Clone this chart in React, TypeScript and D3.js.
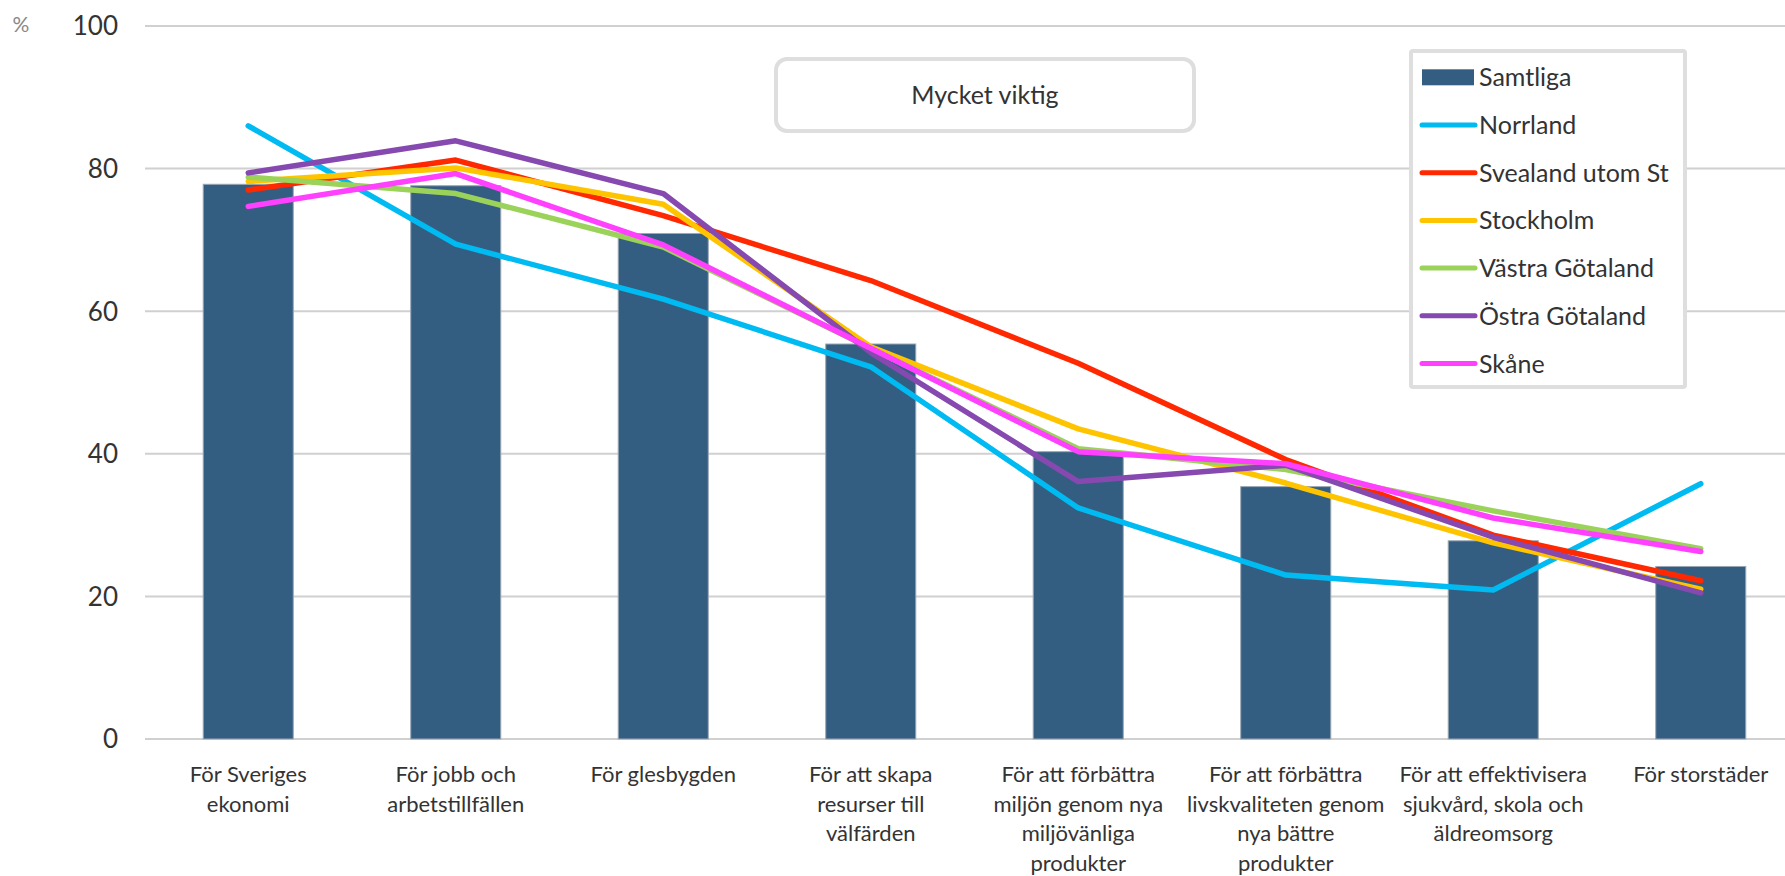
import React from "react";
import * as d3 from "d3";

const categories = [
  "För Sveriges ekonomi",
  "För jobb och arbetstillfällen",
  "För glesbygden",
  "För att skapa resurser till välfärden",
  "För att förbättra miljön genom nya miljövänliga produkter",
  "För att förbättra livskvaliteten genom nya bättre produkter",
  "För att effektivisera sjukvård, skola och äldreomsorg",
  "För storstäder",
];

const categoryLines = [
  ["För Sveriges", "ekonomi"],
  ["För jobb och", "arbetstillfällen"],
  ["För glesbygden"],
  ["För att skapa", "resurser till", "välfärden"],
  ["För att förbättra", "miljön genom nya", "miljövänliga", "produkter"],
  ["För att förbättra", "livskvaliteten genom", "nya bättre", "produkter"],
  ["För att effektivisera", "sjukvård, skola och", "äldreomsorg"],
  ["För storstäder"],
];

const samtliga = [77.8, 77.6, 70.9, 55.4, 40.3, 35.4, 27.8, 24.2];
const norrland = [86.0, 69.4, 61.7, 52.2, 32.4, 23.0, 20.9, 35.8];
const svealand = [77.0, 81.2, 73.4, 64.3, 52.7, 39.2, 28.6, 22.2];
const stockholm = [78.2, 80.1, 75.0, 55.0, 43.5, 35.9, 27.5, 21.0];
const vastra = [78.8, 76.5, 69.0, 54.8, 40.7, 37.8, 32.0, 26.7];
const ostra = [79.4, 83.9, 76.5, 54.2, 36.1, 38.4, 28.3, 20.5];
const skane = [74.7, 79.3, 69.3, 54.8, 40.3, 38.6, 31.0, 26.3];

const yTicks = [0, 20, 40, 60, 80, 100];

const lineSeries = [
  { name: "Norrland", values: norrland, color: "#00BAF2" },
  { name: "Svealand utom St", values: svealand, color: "#FF2800" },
  { name: "Stockholm", values: stockholm, color: "#FFC400" },
  { name: "Västra Götaland", values: vastra, color: "#9BD25A" },
  { name: "Östra Götaland", values: ostra, color: "#8549B0" },
  { name: "Skåne", values: skane, color: "#FF40FF" },
];

const barColor = "#345E81";
const FONT = "Lato, 'Open Sans', sans-serif";

export default function App() {
  const W = 1785;
  const H = 876;
  const x = d3
    .scaleBand<string>()
    .domain(categories)
    .range([144.5, 1804.5])
    .paddingInner(0.566)
    .paddingOuter(0.283);
  const y = d3.scaleLinear().domain([0, 100]).range([739, 26]);
  const cx = (c: string) => (x(c) as number) + x.bandwidth() / 2;

  const line = d3
    .line<number>()
    .x((_, i) => cx(categories[i]))
    .y((d) => y(d));

  const legendItems = [{ name: "Samtliga", color: barColor, bar: true }, ...lineSeries.map((s) => ({ name: s.name, color: s.color, bar: false }))];

  return (
    <svg
      width={W}
      height={H}
      style={{ position: "absolute", left: 0, top: 0, background: "#fff" }}
      fontFamily={FONT}
    >
      <rect x={0} y={0} width={W} height={H} fill="#fff" />
      {yTicks.map((t) => (
        <line key={t} x1={145} x2={W} y1={y(t)} y2={y(t)} stroke="#d0d0d0" strokeWidth={2} />
      ))}
      {yTicks.map((t) => (
        <text key={t} x={118} y={y(t)} dy="0.36em" textAnchor="end" fontSize={26} fill="#333">
          {t}
        </text>
      ))}
      <text x={21} y={24} dy="0.36em" textAnchor="middle" fontSize={21} fill="#888">
        %
      </text>
      {categories.map((c, i) => (
        <rect
          key={c}
          x={x(c)}
          y={y(samtliga[i])}
          width={x.bandwidth()}
          height={y(0) - y(samtliga[i])}
          fill={barColor}
          stroke="#9aa8b4"
          strokeWidth={1}
        />
      ))}
      {lineSeries.map((s) => (
        <path
          key={s.name}
          d={line(s.values) as string}
          fill="none"
          stroke={s.color}
          strokeWidth={5.5}
          strokeLinejoin="round"
          strokeLinecap="round"
        />
      ))}
      {categories.map((c, i) => (
        <text key={c} x={cx(c)} y={774} textAnchor="middle" fontSize={22} fill="#333">
          {categoryLines[i].map((l, j) => (
            <tspan key={j} x={cx(c)} y={774 + j * 29.7} dy="0.36em">
              {l}
            </tspan>
          ))}
        </text>
      ))}
      <rect x={776} y={59} width={418} height={72} rx={11} fill="#fff" stroke="#dedede" strokeWidth={4} />
      <text x={985} y={95} dy="0.36em" textAnchor="middle" fontSize={25} fill="#333">
        Mycket viktig
      </text>
      <rect x={1411} y={51} width={274} height={336} rx={2} fill="#fff" stroke="#dedede" strokeWidth={4} />
      {legendItems.map((it, i) => {
        const cy = 77.3 + i * 47.7;
        return (
          <g key={it.name}>
            {it.bar ? (
              <rect x={1422} y={cy - 8} width={52} height={16} fill={it.color} />
            ) : (
              <line x1={1422} x2={1475} y1={cy} y2={cy} stroke={it.color} strokeWidth={5} strokeLinecap="round" />
            )}
            <text x={1479} y={cy} dy="0.36em" fontSize={25} fill="#333">
              {it.name}
            </text>
          </g>
        );
      })}
    </svg>
  );
}
